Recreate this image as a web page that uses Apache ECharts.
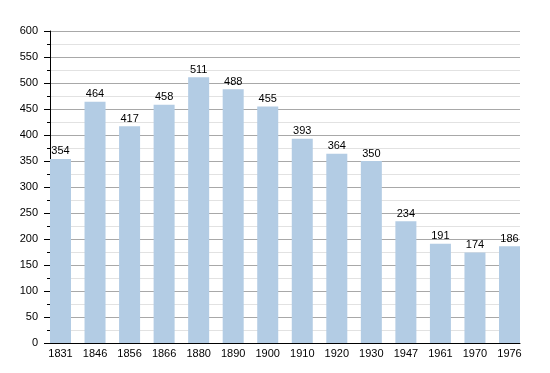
<!DOCTYPE html>
<html>
<head>
<meta charset="utf-8">
<script src="https://cdn.jsdelivr.net/npm/echarts@6/dist/echarts.min.js"></script>
<style>
html,body{margin:0;padding:0;background:#fff;}
#c{width:550px;height:373px;}
</style>
</head>
<body>
<div id="c"></div>
<script>
const years = ['1831','1846','1856','1866','1880','1890','1900','1910','1920','1930','1947','1961','1970','1976'];
const population = [354,464,417,458,511,488,455,393,364,350,234,191,174,186];
const yTicks = {min:0, max:600, interval:50};

const chart = echarts.init(document.getElementById('c'), null, {renderer:'canvas'});
const font = 'Liberation Sans, Arial, sans-serif';
chart.setOption({
  animation:false,
  backgroundColor:'#fff',
  grid:[
    {left:50, right:30, top:31, bottom:30},
    {left:60.5, right:40.5, top:31, bottom:30}
  ],
  xAxis:[
    {gridIndex:0, type:'category', data:years, boundaryGap:true,
     axisLine:{show:true, lineStyle:{color:'#000', width:1}},
     axisTick:{show:false}, axisLabel:{show:false}, splitLine:{show:false}},
    {gridIndex:1, type:'category', data:years, boundaryGap:false,
     axisLine:{show:false}, axisTick:{show:false},
     axisLabel:{color:'#000', fontSize:11, fontFamily:font, margin:5, interval:0},
     splitLine:{show:false}}
  ],
  yAxis:[
    {gridIndex:0, type:'value', min:yTicks.min, max:yTicks.max, interval:yTicks.interval,
     axisLine:{show:true, lineStyle:{color:'#000', width:1}},
     axisTick:{show:true, length:6, lineStyle:{color:'#000'}},
     minorTick:{show:true, splitNumber:2, length:3, lineStyle:{color:'#000'}},
     axisLabel:{color:'#000', fontSize:11, fontFamily:font, margin:12},
     splitLine:{show:true, lineStyle:{color:'#a8a8a8', width:1}},
     minorSplitLine:{show:true, lineStyle:{color:'#e2e2e2', width:1}}},
    {gridIndex:1, type:'value', min:yTicks.min, max:yTicks.max, interval:yTicks.interval,
     show:false, splitLine:{show:false}}
  ],
  series:[{
    type:'bar', xAxisIndex:1, yAxisIndex:1, data:population, barWidth:21,
    itemStyle:{color:'#b3cce4'},
    label:{show:true, position:'top', distance:2, color:'#000', fontSize:11, fontFamily:font}
  }]
});
</script>
</body>
</html>
